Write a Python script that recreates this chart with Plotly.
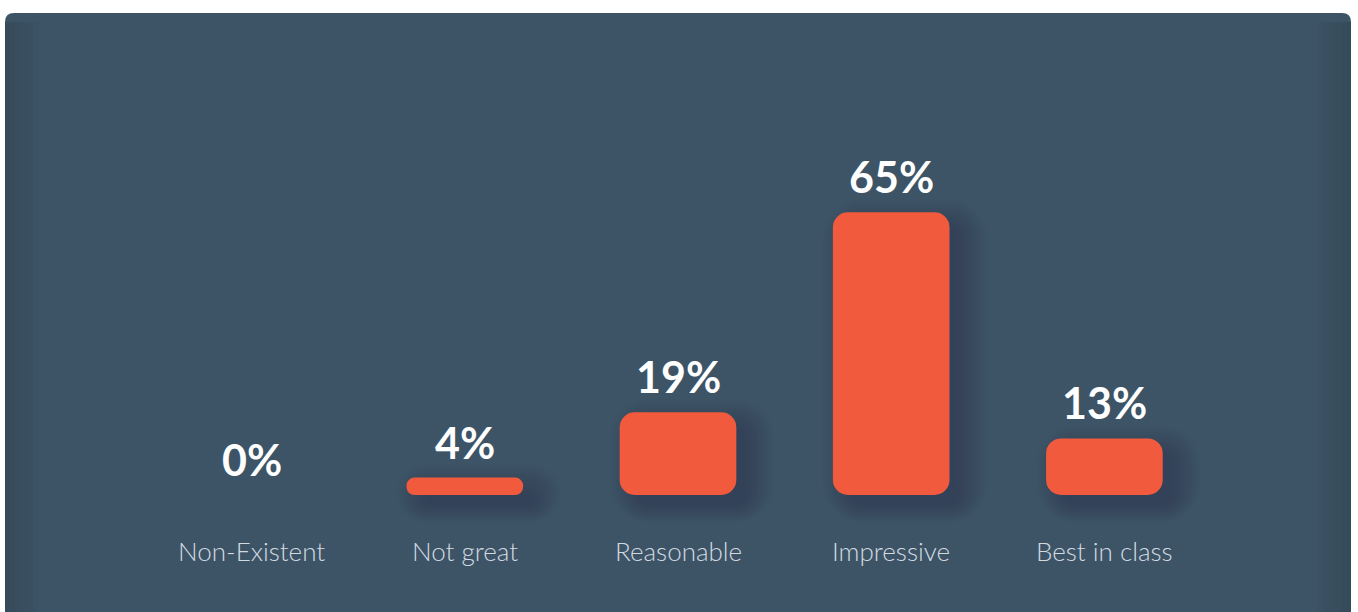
import plotly.graph_objects as go

categories = ["Non-Existent", "Not great", "Reasonable", "Impressive", "Best in class"]
values = [0, 4, 19, 65, 13]
value_labels = ["0%", "4%", "19%", "65%", "13%"]

BAR_COLOR = "#F15A3D"
CARD_COLOR = "#3D5467"
TEXT_LIGHT = "#D2DAE0"

FIG_W, FIG_H = 1358, 612
ML, MR, MT, MB = 145, 147, 60, 30
PW = FIG_W - ML - MR
PH = FIG_H - MT - MB
Y_MIN, Y_MAX = -20, 100
PX_PER_CAT = PW / 5.0
PX_PER_PCT = PH / (Y_MAX - Y_MIN)
BAR_W = 0.547
RADIUS = 15


def px_x(px):
    return (px - ML) / PW


def px_y(py):
    return 1 - (py - MT) / PH


fig = go.Figure()

# soft drop shadow (layers of translucent bars, offset right/down)
n_layers = 10
for k in range(n_layers):
    spread = 3.2 * k  # px
    dx = 14.0
    dy = 10.0
    w_px = BAR_W * PX_PER_CAT + 2 * spread - 10
    off_px = -(BAR_W * PX_PER_CAT) / 2 + 5 - spread + dx
    ys, bases = [], []
    for v in values:
        if v <= 0:
            ys.append(0)
            bases.append(0)
            continue
        top = v - (16 - spread) / PX_PER_PCT
        bot = -(dy + spread * 0.6) / PX_PER_PCT
        bases.append(bot)
        ys.append(max(top - bot, 0))
    fig.add_trace(go.Bar(
        x=categories, y=ys, base=bases,
        width=w_px / PX_PER_CAT, offset=off_px / PX_PER_CAT,
        marker=dict(color="rgba(40,56,68,0.045)", line=dict(width=0),
                    cornerradius=int(10 + spread)),
        hoverinfo="skip", showlegend=False,
    ))

# main bars (explicit base -> all four corners rounded)
for c, v in zip(categories, values):
    if v <= 0:
        continue
    h_px = v * PX_PER_PCT
    r = int(min(RADIUS, h_px / 2))
    fig.add_trace(go.Bar(
        x=[c], y=[v], base=[0], width=BAR_W,
        marker=dict(color=BAR_COLOR, line=dict(width=0), cornerradius=r),
        hoverinfo="skip", showlegend=False,
    ))

annotations = []
for c, v, lab in zip(categories, values, value_labels):
    annotations.append(dict(
        x=c, y=v, text=lab, showarrow=False, xanchor="center", yanchor="bottom",
        yshift=8, font=dict(family="Lato", size=43, color="white", weight="bold"),
    ))
    annotations.append(dict(
        x=c, y=0, text=c, showarrow=False, xanchor="center", yanchor="middle",
        yshift=-56, font=dict(family="Lato", size=26, color=TEXT_LIGHT, weight=300),
    ))

# card background (rounded top corners)
x0, x1 = px_x(5), px_x(1351)
yt = px_y(13)
yb = px_y(640)
rx = 9 / PW
ry = 9 / PH
card_path = (
    f"M {x0},{yb} L {x0},{yt - ry} Q {x0},{yt} {x0 + rx},{yt} "
    f"L {x1 - rx},{yt} Q {x1},{yt} {x1},{yt - ry} L {x1},{yb} Z"
)
shapes = [dict(type="path", path=card_path, xref="paper", yref="paper",
               fillcolor=CARD_COLOR, line=dict(width=0), layer="below")]
# subtle darker edges of the card
for i in range(6):
    w = 4 + i * 6
    shapes.append(dict(type="rect", xref="paper", yref="paper",
                       x0=px_x(5), x1=px_x(5 + w), y0=yb, y1=yt - ry,
                       fillcolor="rgba(40,55,66,0.05)", line=dict(width=0), layer="below"))
    shapes.append(dict(type="rect", xref="paper", yref="paper",
                       x0=px_x(1351 - w), x1=px_x(1351), y0=yb, y1=yt - ry,
                       fillcolor="rgba(40,55,66,0.05)", line=dict(width=0), layer="below"))

fig.update_layout(
    width=FIG_W, height=FIG_H,
    margin=dict(l=ML, r=MR, t=MT, b=MB, pad=0),
    paper_bgcolor="white",
    plot_bgcolor="rgba(0,0,0,0)",
    barmode="overlay",
    showlegend=False,
    xaxis=dict(visible=False, range=[-0.5, 4.5], fixedrange=True),
    yaxis=dict(visible=False, range=[Y_MIN, Y_MAX], fixedrange=True),
    annotations=annotations,
    shapes=shapes,
)

fig.write_html(
    "out.html",
    config={"displayModeBar": False},
    post_script="document.body.style.margin='0';document.body.style.overflow='hidden';",
)
